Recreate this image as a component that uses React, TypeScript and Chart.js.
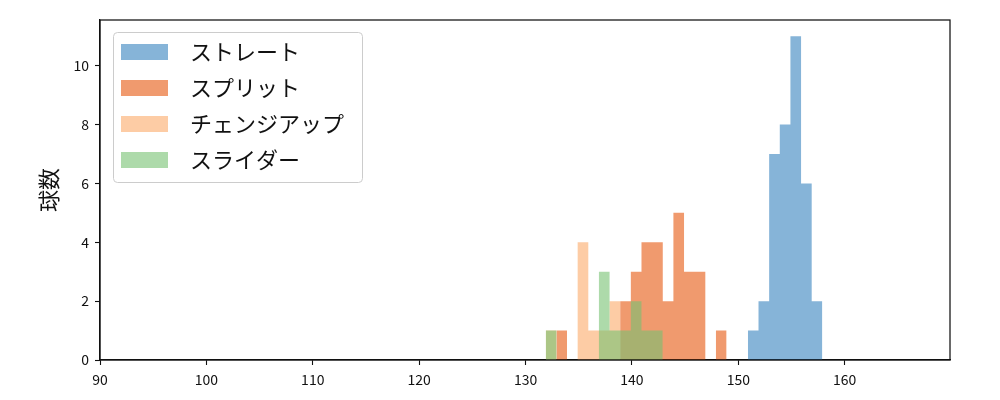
import React, { useEffect, useRef } from 'react';
import { Chart, registerables } from 'chart.js';

Chart.register(...registerables);

// ---- data ----
const seriesNames = ['ストレート', 'スプリット', 'チェンジアップ', 'スライダー'];
const binStart = 131.9;
const binWidth = 1;
const straightCounts = [0, 0, 0, 0, 0, 0, 0, 0, 0, 0, 0, 0, 0, 0, 0, 0, 0, 0, 0, 1, 2, 7, 8, 11, 6, 2];
const splitCounts = [0, 1, 0, 0, 0, 0, 0, 2, 3, 4, 4, 2, 5, 3, 3, 0, 1, 0, 0, 0, 0, 0, 0, 0, 0, 0];
const changeupCounts = [1, 0, 0, 4, 1, 1, 2, 0, 0, 0, 0, 0, 0, 0, 0, 0, 0, 0, 0, 0, 0, 0, 0, 0, 0, 0];
const sliderCounts = [1, 0, 0, 0, 0, 3, 1, 1, 2, 1, 1, 0, 0, 0, 0, 0, 0, 0, 0, 0, 0, 0, 0, 0, 0, 0];
const xTickValues = [90, 100, 110, 120, 130, 140, 150, 160];
const yTickValues = [0, 2, 4, 6, 8, 10];
const xMin = 90;
const xMax = 169.9;
const yMax = 11.55;
const yTitle = '球数';

const colors = [
  'rgba(53,130,190,0.6)',
  'rgba(230,87,13,0.6)',
  'rgba(252,170,105,0.6)',
  'rgba(118,193,113,0.6)',
];

function histPoints(counts: number[]) {
  const first = counts.findIndex((c) => c > 0);
  let last = counts.length - 1;
  while (last > 0 && counts[last] === 0) last--;
  const pts: { x: number; y: number }[] = [];
  for (let i = first; i <= last; i++) {
    pts.push({ x: binStart + i * binWidth, y: counts[i] });
  }
  pts.push({ x: binStart + (last + 1) * binWidth, y: 0 });
  return pts;
}

function makeSwatch(color: string) {
  const c = document.createElement('canvas');
  c.width = 58;
  c.height = 16;
  const ctx = c.getContext('2d')!;
  ctx.fillStyle = color;
  ctx.fillRect(0, 0, 47, 16);
  return c;
}

const FONT = "'Noto Sans CJK JP', 'DejaVu Sans', sans-serif";

export default function App() {
  const ref = useRef<HTMLCanvasElement>(null);

  useEffect(() => {
    document.body.style.margin = '0';
    const canvas = ref.current!;
    const allCounts = [straightCounts, splitCounts, changeupCounts, sliderCounts];
    const swatches = colors.map(makeSwatch);

    const framePlugin = {
      id: 'frame',
      afterLayout(chart: any) {
        const lg = chart.legend;
        if (lg) {
          lg.left += 7;
          lg.top += 27;
        }
      },
      afterDraw(chart: any) {
        const ctx = chart.ctx;
        const a = chart.chartArea;
        ctx.save();
        ctx.strokeStyle = '#111';
        ctx.lineWidth = 1.25;
        ctx.strokeRect(a.left, a.top, a.right - a.left, a.bottom - a.top);
        const hb = chart.legend?.legendHitBoxes || [];
        if (hb.length) {
          const l = hb[0].left - 8;
          const t = hb[0].top - 9;
          let r = 0;
          let b = 0;
          for (const h of hb) {
            r = Math.max(r, h.left + h.width);
            b = Math.max(b, h.top + h.height);
          }
          r += 18;
          b += 11;
          ctx.strokeStyle = '#cccccc';
          ctx.lineWidth = 1;
          ctx.beginPath();
          (ctx as any).roundRect(l + 0.5, t + 0.5, r - l, b - t, 4);
          ctx.stroke();
        }
        ctx.restore();
      },
    };

    const chart = new Chart(canvas, {
      type: 'line',
      data: {
        datasets: seriesNames.map((name, i) => ({
          label: name,
          data: histPoints(allCounts[i]),
          stepped: true,
          fill: 'origin',
          backgroundColor: colors[i],
          borderColor: 'rgba(0,0,0,0)',
          borderWidth: 0,
          pointRadius: 0,
          pointHoverRadius: 0,
          order: 4 - i,
        })),
      },
      options: {
        animation: false,
        responsive: false,
        devicePixelRatio: 1,
        layout: { padding: { top: 20, right: 50, left: 0, bottom: 0 } },
        plugins: {
          tooltip: { enabled: false },
          legend: {
            position: 'chartArea' as any,
            align: 'start',
            labels: {
              usePointStyle: true,
              pointStyleWidth: 58,
              padding: 14,
              color: '#111',
              font: { size: 22, family: FONT },
              generateLabels: (ch: any) =>
                ch.data.datasets.map((ds: any, i: number) => ({
                  text: ds.label,
                  fillStyle: colors[i],
                  strokeStyle: 'rgba(0,0,0,0)',
                  lineWidth: 0,
                  pointStyle: swatches[i],
                  hidden: false,
                  datasetIndex: i,
                  fontColor: '#111',
                })),
            },
          },
        },
        scales: {
          x: {
            type: 'linear',
            min: xMin,
            max: xMax,
            afterFit: (s: any) => {
              s.height = 40;
            },
            afterBuildTicks: (s: any) => {
              s.ticks = xTickValues.map((v) => ({ value: v }));
            },
            ticks: {
              color: '#111',
              font: { size: 14, family: FONT },
              padding: 6,
              maxRotation: 0,
              includeBounds: false,
            },
            grid: {
              drawOnChartArea: false,
              drawTicks: true,
              tickLength: 5,
              tickColor: '#111',
              tickWidth: 1.1,
            },
            border: { display: true, color: '#111', width: 1.25 },
          },
          y: {
            type: 'linear',
            min: 0,
            max: yMax,
            afterFit: (s: any) => {
              s.width = 100;
            },
            afterBuildTicks: (s: any) => {
              s.ticks = yTickValues.map((v) => ({ value: v }));
            },
            ticks: {
              color: '#111',
              font: { size: 14, family: FONT },
              padding: 6,
              includeBounds: false,
            },
            grid: {
              drawOnChartArea: false,
              drawTicks: true,
              tickLength: 5,
              tickColor: '#111',
              tickWidth: 1.1,
            },
            border: { display: true, color: '#111', width: 1.25 },
            title: {
              display: true,
              text: yTitle,
              color: '#111',
              font: { size: 22, family: FONT },
              padding: { top: 35, bottom: 0 },
            },
          },
        },
      },
      plugins: [framePlugin],
    } as any);

    return () => chart.destroy();
  }, []);

  return (
    <div style={{ position: 'absolute', left: 0, top: 0, width: 1000, height: 400 }}>
      <canvas ref={ref} width={1000} height={400} style={{ display: 'block' }} />
    </div>
  );
}
